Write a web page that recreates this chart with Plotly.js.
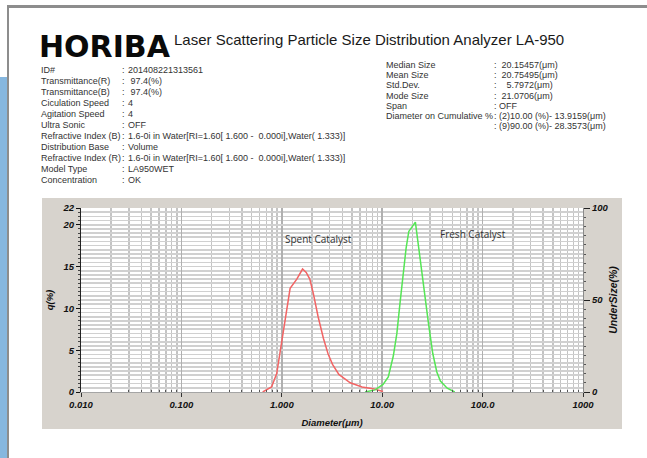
<!DOCTYPE html>
<html>
<head>
<meta charset="utf-8">
<script src="https://cdn.plot.ly/plotly-3.0.1.min.js"></script>
<style>
html,body{margin:0;padding:0;background:#ffffff;}
#chart{width:647px;height:458px;}
</style>
</head>
<body>
<div id="chart"></div>
<script>
// ---------- data ----------
const spentDiameter = [0.645, 0.79, 0.89, 1.0, 1.10, 1.21, 1.41, 1.61, 1.75, 1.90, 2.06, 2.30, 2.60, 2.90, 3.20, 3.70, 4.80, 6.30, 8.10, 10.2];
const spentQ        = [0.0,   0.6,  2.2,  6.0, 9.4,  12.4, 13.5, 14.7, 14.3, 13.5, 11.8, 9.0,  6.4,  4.5,  3.3,  2.1,  1.1,  0.6,  0.4,  0.05];

const freshDiameter = [6.74, 8.48, 10.2, 11.5, 12.9, 14.0, 15.1, 16.2, 17.3, 18.4, 21.4, 22.9, 25.7, 28.9, 31.9, 35.0, 38.0, 44.4, 52.8];
const freshQ        = [0.0,  0.25, 0.9,  1.8,  4.3,  7.0,  10.8, 14.0, 17.2, 19.2, 20.3, 17.6, 12.8, 8.2,  4.6,  2.4,  1.3,  0.45, 0.0];

const xTickVals  = [0.01, 0.1, 1, 10, 100, 1000];
const xTickText  = ['0.010', '0.100', '1.000', '10.00', '100.0', '1000'];
const yTickVals  = [0, 5, 10, 15, 20, 22];
const yTickText  = ['0', '5', '10', '15', '20', '22'];
const y2TickVals = [0, 50, 100];
const y2TickText = ['0', '50', '100'];

const seriesNames = ['Spent Catalyst', 'Fresh Catalyst'];

const leftLabels = ['ID#', 'Transmittance(R)', 'Transmittance(B)', 'Ciculation Speed', 'Agitation Speed', 'Ultra Sonic',
  'Refractive Index (B)', 'Distribution Base', 'Refractive Index (R)', 'Model Type', 'Concentration'];
const leftValues = ['201408221313561', '\u00a097.4(%)', '\u00a097.4(%)', '4', '4', 'OFF',
  '1.6-0i in Water[RI=1.60[ 1.600 -\u00a0\u00a00.000i],Water( 1.333)]', 'Volume',
  '1.6-0i in Water[RI=1.60[ 1.600 -\u00a0\u00a00.000i],Water( 1.333)]', 'LA950WET', 'OK'];

const rightLabels = ['Median Size', 'Mean Size', 'Std.Dev.', 'Mode Size', 'Span', 'Diameter on Cumulative %', ''];
const rightValues = ['\u00a020.15457(μm)', '\u00a020.75495(μm)', '\u00a0\u00a0\u00a05.7972(μm)', '\u00a021.0706(μm)', 'OFF',
  '(2)10.00 (%)- 13.9159(μm)', '(9)90.00 (%)- 28.3573(μm)'];

// ---------- geometry helpers (pixel -> paper) ----------
const W = 647, H = 458;
const PL = 81, PR = 583, PT = 208, PB = 392;
const px = x => (x - PL) / (PR - PL);
const py = y => (PB - y) / (PB - PT);

const infoFont = {family: 'Arial, Liberation Sans, sans-serif', size: 9, color: '#333333'};
const tickFont = {family: 'Arial, Liberation Sans, sans-serif', size: 9.5, color: '#111', weight: 'bold', style: 'italic'};
const titleFont = {family: 'Arial, Liberation Sans, sans-serif', size: 9.5, color: '#111', weight: 'bold', style: 'italic'};

const annotations = [];
function txt(text, x, y, font, xanchor) {
  annotations.push({text: text, xref: 'paper', yref: 'paper', x: px(x), y: py(y),
    xanchor: xanchor || 'left', yanchor: 'middle', showarrow: false, font: font, borderpad: 0});
}

txt('HORIBA', 38, 46, {family: 'DejaVu Sans, sans-serif', size: 30, color: '#0a0a0a', weight: 'bold'});
txt('Laser Scattering Particle Size Distribution Analyzer LA-950', 173, 39,
  {family: 'Arial, Liberation Sans, sans-serif', size: 15, color: '#1a1a1a'});

leftLabels.forEach((lab, i) => {
  const y = 70 + i * 11;
  txt(lab, 40, y, infoFont);
  txt(':', 121, y, infoFont);
  txt(leftValues[i], 127, y, infoFont);
});
rightLabels.forEach((lab, i) => {
  const y = 65 + i * 10.2;
  if (lab) txt(lab, 385, y, infoFont);
  txt(':', 493, y, infoFont);
  txt(rightValues[i], 498, y, infoFont);
});

txt(seriesNames[0], 318, 239, {family: 'Open Sans, sans-serif', size: 10, color: '#333'}, 'center');
txt(seriesNames[1], 473, 234, {family: 'Open Sans, sans-serif', size: 10, color: '#333'}, 'center');

// minor tick positions for the log axis (2..9 of each decade)
const minorX = [];
for (let e = -2; e < 3; e++) for (let m = 2; m <= 9; m++) minorX.push(m * Math.pow(10, e));

function rect(x0, y0, x1, y1, color) {
  return {type: 'rect', xref: 'paper', yref: 'paper', x0: px(x0), x1: px(x1), y0: py(y0), y1: py(y1),
    fillcolor: color, line: {width: 0}, layer: 'below'};
}
const shapes = [
  rect(0, 77, 7, 458, '#86b7df'),
  rect(7, 6, 9, 458, '#8d8d8d'),
  rect(7, 5, 647, 8, '#8d8d8d'),
  rect(42, 198, 622, 429, '#d7d3cd'),
  {type: 'rect', xref: 'paper', yref: 'paper', x0: 0, x1: 1, y0: 0, y1: 1, fillcolor: '#ffffff', line: {width: 0}, layer: 'below'}
];

const traces = [
  {x: spentDiameter, y: spentQ, name: seriesNames[0], type: 'scatter', mode: 'lines',
    line: {color: '#f26464', width: 1.5}, hoverinfo: 'skip'},
  {x: freshDiameter, y: freshQ, name: seriesNames[1], type: 'scatter', mode: 'lines',
    line: {color: '#55e655', width: 1.5}, hoverinfo: 'skip'},
  {x: [], y: [], yaxis: 'y2', type: 'scatter', mode: 'lines', showlegend: false, hoverinfo: 'skip'}
];

const layout = {
  width: W, height: H,
  margin: {l: PL, r: W - PR, t: PT, b: H - PB, pad: 0},
  paper_bgcolor: '#ffffff', plot_bgcolor: '#ffffff',
  showlegend: false,
  xaxis: {
    type: 'log', range: [-2, 3], tickmode: 'array', tickvals: xTickVals, ticktext: xTickText,
    ticks: 'outside', ticklen: 4, tickcolor: '#333', tickwidth: 1,
    showgrid: true, gridcolor: '#b0b0b0', gridwidth: 1.5,
    showline: true, linecolor: '#a5a5a5', linewidth: 1, zeroline: false,
    tickfont: tickFont,
    minor: {tickmode: 'array', tickvals: minorX, ticks: 'inside', ticklen: 2, tickcolor: '#555',
      showgrid: true, gridcolor: '#c4c4c4', gridwidth: 1.5},
    title: {text: 'Diameter(μm)', font: titleFont, standoff: 9},
    automargin: false, fixedrange: true
  },
  yaxis: {
    range: [0, 22], tickmode: 'array', tickvals: yTickVals, ticktext: yTickText,
    ticks: 'outside', ticklen: 4, tickcolor: '#111',
    showline: true, linecolor: '#222', linewidth: 1, zeroline: false,
    showgrid: true, gridcolor: '#d0d0d0', gridwidth: 1.6,
    minor: {dtick: 0.5, ticks: 'outside', ticklen: 2, tickcolor: '#444', showgrid: true, gridcolor: '#d0d0d0', gridwidth: 1.6},
    tickfont: tickFont,
    title: {text: 'q(%)', font: titleFont, standoff: 7},
    automargin: false, fixedrange: true
  },
  yaxis2: {
    overlaying: 'y', side: 'right', range: [0, 100], tickmode: 'array', tickvals: y2TickVals, ticktext: y2TickText,
    ticks: 'outside', ticklen: 6, tickcolor: '#222',
    showline: true, linecolor: '#8a8a8a', linewidth: 1, zeroline: false, showgrid: false,
    minor: {dtick: 5, ticks: 'outside', ticklen: 2, tickcolor: '#555'},
    tickfont: tickFont,
    title: {text: 'UnderSize(%)', font: {family: titleFont.family, size: 10.5, color: '#111', weight: 'bold', style: 'italic'}, standoff: 2},
    automargin: false, fixedrange: true
  },
  shapes: shapes,
  annotations: annotations
};

Plotly.newPlot('chart', traces, layout, {staticPlot: true, displayModeBar: false, responsive: false});
</script>
</body>
</html>
